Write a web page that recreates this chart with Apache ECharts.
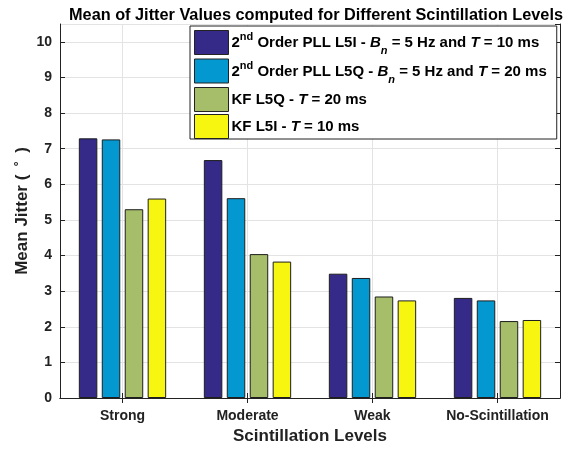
<!DOCTYPE html>
<html><head><meta charset="utf-8">
<script src="https://cdn.jsdelivr.net/npm/echarts@6/dist/echarts.min.js"></script>
<style>html,body{margin:0;padding:0;background:#fff}#c{width:569px;height:452px}</style>
</head><body><div id="c"></div>
<script>
const categories = ['Strong', 'Moderate', 'Weak', 'No-Scintillation'];
const pllL5I = [7.29, 6.68, 3.49, 2.81];
const pllL5Q = [7.26, 5.61, 3.37, 2.74];
const kfL5Q = [5.30, 4.04, 2.85, 2.16];
const kfL5I = [5.60, 3.83, 2.74, 2.19];
const seriesNames = [
  '2nd Order PLL L5I - Bn = 5 Hz and T = 10 ms',
  '2nd Order PLL L5Q - Bn = 5 Hz and T = 20 ms',
  'KF L5Q - T = 20 ms',
  'KF L5I - T = 10 ms'
];
const legendRich = [
  '{t|2}{sup|nd}{t| Order PLL L5I - }{i|B}{sub|n}{t| = 5 Hz and }{i|T}{t| = 10 ms}',
  '{t|2}{sup|nd}{t| Order PLL L5Q - }{i|B}{sub|n}{t| = 5 Hz and }{i|T}{t| = 20 ms}',
  '{t|KF L5Q - }{i|T}{t| = 20 ms}',
  '{t|KF L5I - }{i|T}{t| = 10 ms}'
];
const colors = ['#352a87', '#0399d0', '#a6bd69', '#f6f611'];
const yTicks = {min: 0, max: 10.5, interval: 1};

// helper half-step positions for top axis (grid lines at category centres)
const halfPos = [];
categories.forEach(c => { halfPos.push(''); halfPos.push(c); });
halfPos.push('');

const font = 'Liberation Sans, Arial, Helvetica, sans-serif';
const chart = echarts.init(document.getElementById('c'), null, {renderer: 'canvas'});
const values = [pllL5I, pllL5Q, kfL5Q, kfL5I];
const lf = 15;

chart.setOption({
  animation: false,
  textStyle: {fontFamily: font},
  title: {
    text: 'Mean of Jitter Values computed for Different Scintillation Levels',
    left: 311, top: 3, textAlign: 'center',
    textStyle: {fontFamily: font, fontSize: 16.3, fontWeight: 'bold', color: '#000'}
  },
  grid: {left: 60, right: 9, top: 24, bottom: 54, containLabel: false},
  legend: {
    orient: 'vertical', left: 190, top: 26,
    backgroundColor: '#fff', borderColor: '#222', borderWidth: 1,
    padding: [4, 10, 0, 4], itemWidth: 34, itemHeight: 24, itemGap: 2,
    icon: 'rect',
    itemStyle: {borderColor: '#222', borderWidth: 1},
    data: seriesNames,
    formatter: function (name) {
      return legendRich[seriesNames.indexOf(name)];
    },
    textStyle: {
      fontFamily: font, fontSize: lf, fontWeight: 'bold', color: '#000', padding: [0, 0, 0, -2],
      rich: {
        t: {fontFamily: font, fontSize: lf, fontWeight: 'bold', color: '#000', lineHeight: 22, verticalAlign: 'bottom', padding: [0, 0, 3, 0]},
        i: {fontFamily: font, fontSize: lf, fontWeight: 'bold', fontStyle: 'italic', color: '#000', lineHeight: 22, verticalAlign: 'bottom', padding: [0, 0, 3, 0]},
        sup: {fontFamily: font, fontSize: 11, fontWeight: 'bold', color: '#000', lineHeight: 22, verticalAlign: 'bottom', padding: [0, 0, 11, 0]},
        sub: {fontFamily: font, fontSize: 11, fontWeight: 'bold', fontStyle: 'italic', color: '#000', lineHeight: 22, verticalAlign: 'bottom', padding: [0, 0, -3, 0]}
      }
    }
  },
  xAxis: [
    {
      type: 'category', data: categories, position: 'bottom', boundaryGap: true,
      name: 'Scintillation Levels', nameLocation: 'middle', nameGap: 30,
      nameTextStyle: {fontFamily: font, fontSize: 17, fontWeight: 'bold', color: '#222'},
      axisLine: {show: true, lineStyle: {color: '#222', width: 1}},
      axisTick: {show: true, inside: true, alignWithLabel: true, length: 5, lineStyle: {color: '#222'}},
      axisLabel: {interval: 0, hideOverlap: false, fontFamily: font, fontSize: 14, fontWeight: 'bold', color: '#222', margin: 11},
      splitLine: {show: false}
    },
    {
      type: 'category', data: halfPos, position: 'top', boundaryGap: false,
      axisLine: {show: true, lineStyle: {color: '#222', width: 1}},
      axisTick: {show: true, inside: true, length: 5, interval: (i) => i % 2 === 1, lineStyle: {color: '#222'}},
      axisLabel: {show: false},
      splitLine: {show: true, interval: (i) => i % 2 === 1, lineStyle: {color: '#e3e3e3', width: 1}}
    }
  ],
  yAxis: [
    {
      type: 'value', min: yTicks.min, max: yTicks.max, interval: yTicks.interval, position: 'left',
      name: '{n|Mean Jitter (\u2002}{s|°}{n|\u2002)}', nameLocation: 'middle', nameGap: 27, nameRotate: 90,
      nameMoveOverlap: false,
      nameTextStyle: {
        fontFamily: font, fontSize: 17, fontWeight: 'bold', color: '#222',
        rich: {
          n: {fontFamily: font, fontSize: 17, fontWeight: 'bold', color: '#222', lineHeight: 20, verticalAlign: 'bottom', padding: [0, 0, 2, 0]},
          s: {fontFamily: font, fontSize: 12, fontWeight: 'bold', color: '#222', lineHeight: 20, verticalAlign: 'bottom', padding: [0, 0, 7, 0]}
        }
      },
      axisLine: {show: true, lineStyle: {color: '#222', width: 1}},
      axisTick: {show: true, inside: true, length: 5, lineStyle: {color: '#222'}},
      axisLabel: {fontFamily: font, fontSize: 14, fontWeight: 'bold', color: '#222', margin: 8, showMaxLabel: false},
      splitLine: {show: true, lineStyle: {color: '#e3e3e3', width: 1}}
    },
    {
      type: 'value', min: yTicks.min, max: yTicks.max, interval: yTicks.interval, position: 'right',
      axisLine: {show: true, lineStyle: {color: '#222', width: 1}},
      axisTick: {show: true, inside: true, length: 5, lineStyle: {color: '#222'}},
      axisLabel: {show: false},
      splitLine: {show: false}
    }
  ],
  series: seriesNames.map((n, i) => ({
    name: n, type: 'bar', xAxisIndex: 0, yAxisIndex: 0,
    data: values[i], barWidth: 18.5, barGap: '24%',
    itemStyle: {color: colors[i], borderColor: '#1e1e1e', borderWidth: 1}
  }))
});
</script></body></html>
